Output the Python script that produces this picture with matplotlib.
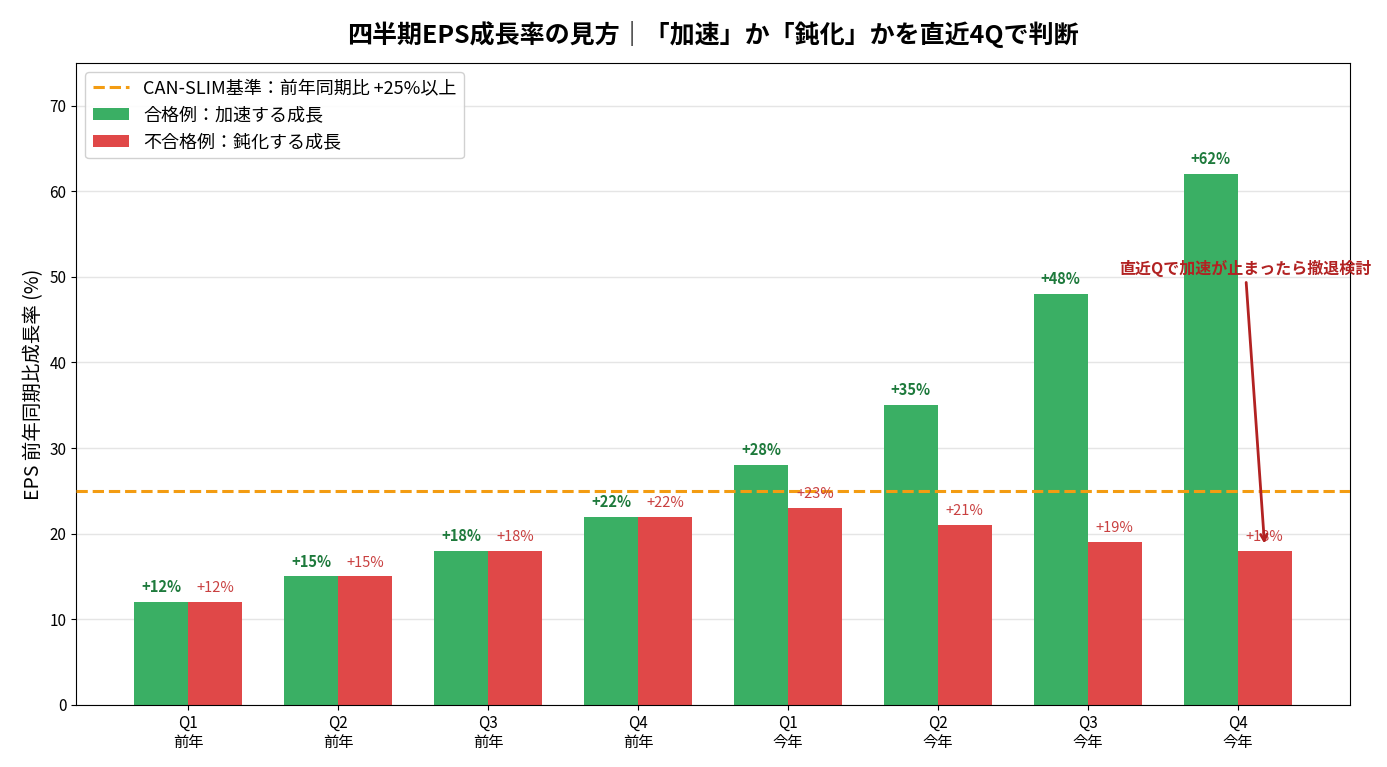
import matplotlib
matplotlib.use("Agg")
import matplotlib.pyplot as plt
import numpy as np

plt.rcParams['font.family'] = ['Noto Sans CJK JP', 'DejaVu Sans']

quarters = ["Q1\n前年", "Q2\n前年", "Q3\n前年", "Q4\n前年", "Q1\n今年", "Q2\n今年", "Q3\n今年", "Q4\n今年"]
accel = [12, 15, 18, 22, 28, 35, 48, 62]
decel = [12, 15, 18, 22, 23, 21, 19, 18]
threshold = 25

green = '#3aaf64'
red = '#e04848'
orange = '#f39c12'

fig, ax = plt.subplots(figsize=(13.87, 7.67), dpi=100)
x = np.arange(len(quarters))
w = 0.36
ax.axhline(threshold, color=orange, ls='--', lw=2.2, label='CAN-SLIM基準：前年同期比 +25%以上', zorder=3)
ax.bar(x - w/2, accel, w, color=green, label='合格例：加速する成長', zorder=2)
ax.bar(x + w/2, decel, w, color=red, label='不合格例：鈍化する成長', zorder=2)

for xi, v in zip(x, accel):
    ax.text(xi - w/2, v + 0.8, f'+{v}%', ha='center', va='bottom', fontsize=10.5,
            fontweight='bold', color='#1e7a3c')
for xi, v in zip(x, decel):
    ax.text(xi + w/2, v + 0.8, f'+{v}%', ha='center', va='bottom', fontsize=10.5,
            color='#c94040')

ax.annotate('直近Qで加速が止まったら撤退検討', xy=(7 + w/2, 18.5), xytext=(7.05, 50),
            ha='center', va='bottom', fontsize=11.5, fontweight='bold', color='#b22222',
            arrowprops=dict(arrowstyle='->', color='#b22222', lw=2), zorder=5)

ax.set_xticks(x)
ax.set_xticklabels(quarters, fontsize=11)
ax.set_ylim(0, 75)
ax.set_yticks(range(0, 71, 10))
ax.tick_params(axis='y', labelsize=11)
ax.set_ylabel('EPS 前年同期比成長率 (%)', fontsize=14)
ax.set_title('四半期EPS成長率の見方｜「加速」か「鈍化」かを直近4Qで判断', fontsize=18,
             fontweight='bold', pad=14)
ax.grid(axis='y', color='#e5e5e5', lw=1, zorder=0)
ax.set_axisbelow(True)

handles, labels = ax.get_legend_handles_labels()
want = ['CAN-SLIM基準：前年同期比 +25%以上', '合格例：加速する成長', '不合格例：鈍化する成長']
idx = [labels.index(s) for s in want]
ax.legend([handles[i] for i in idx], [labels[i] for i in idx], loc='upper left', fontsize=13,
          framealpha=0.9)

fig.subplots_adjust(left=0.055, right=0.973, top=0.918, bottom=0.081)
fig.savefig('out.png', dpi=100)
